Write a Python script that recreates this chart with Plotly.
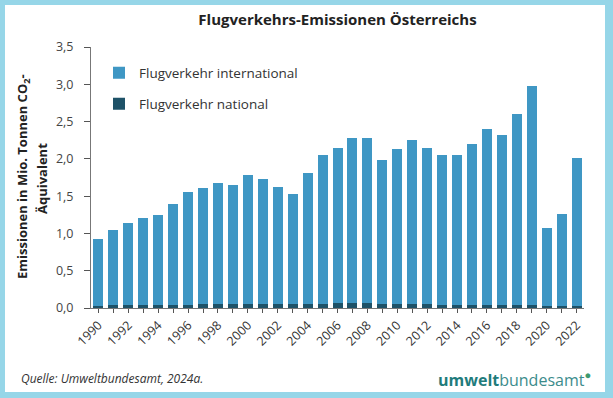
import plotly.graph_objects as go

years = list(range(1990, 2023))
label_years = list(range(1990, 2023, 2))

national = [0.03, 0.035, 0.035, 0.04, 0.04, 0.045, 0.045, 0.05, 0.055, 0.055,
            0.055, 0.05, 0.05, 0.055, 0.055, 0.055, 0.065, 0.07, 0.065, 0.055,
            0.055, 0.055, 0.05, 0.045, 0.045, 0.045, 0.04, 0.04, 0.04, 0.04,
            0.025, 0.025, 0.03]
international = [0.90, 1.01, 1.10, 1.165, 1.21, 1.355, 1.505, 1.56, 1.62, 1.59,
                 1.73, 1.68, 1.57, 1.475, 1.755, 2.00, 2.08, 2.205, 2.215, 1.93,
                 2.08, 2.20, 2.10, 2.01, 2.01, 2.155, 2.355, 2.275, 2.56, 2.935,
                 1.05, 1.235, 1.985]
y_ticks = [0, 0.5, 1.0, 1.5, 2.0, 2.5, 3.0, 3.5]

C_INT = "#3F97C4"
C_NAT = "#1E5268"
C_FRAME = "#96D6E8"
FONT = "Open Sans"

W, H = 613, 398
L, R, T, B = 91, 29, 47, 90
PW, PH = W - L - R, H - T - B


def px(x):
    return (x - L) / PW


def py(y):
    return (H - B - y) / PH


fig = go.Figure()
fig.add_trace(go.Bar(x=years, y=national, name="Flugverkehr national",
                     marker=dict(color=C_NAT, line=dict(width=0)),
                     legend="legend2", showlegend=True))
fig.add_trace(go.Bar(x=years, y=international, name="Flugverkehr international",
                     marker=dict(color=C_INT, line=dict(width=0)),
                     legend="legend", showlegend=True))

fig.update_layout(
    width=W, height=H,
    margin=dict(l=L, r=R, t=T, b=B, autoexpand=False),
    barmode="stack", bargap=0.33,
    showlegend=True,
    paper_bgcolor=C_FRAME, plot_bgcolor="white",
    separators=",.",
    font=dict(family=FONT, color="#444444", size=12),
    title=dict(text="<b>Flugverkehrs-Emissionen Österreichs</b>",
               x=0.5, xanchor="center", xref="paper", y=1 - 20 / H, yanchor="middle",
               yref="container", font=dict(size=15, color="#222222", family=FONT)),
    xaxis=dict(tickmode="array", tickvals=label_years,
               tickangle=-45, ticks="outside", ticklen=4, tickcolor="#555555",
               minor=dict(dtick=1, tick0=1990, ticks="outside", ticklen=4,
                          tickcolor="#555555", showgrid=False),
               showline=True, linecolor="#777777", linewidth=1, showgrid=False,
               zeroline=False, range=[1989.5, 2022.5],
               tickfont=dict(size=12.5, color="#333333")),
    yaxis=dict(range=[0, 3.5], tickvals=y_ticks, tickformat=".1f",
               ticks="outside", ticklen=6, tickcolor="#555555",
               showline=True, linecolor="#777777", linewidth=1, showgrid=False,
               zeroline=False, ticklabelstandoff=8,
               tickfont=dict(size=12.5, color="#444444")),
    legend=dict(x=px(99), y=py(73), xanchor="left", yanchor="middle", visible=True,
                bgcolor="rgba(0,0,0,0)", font=dict(size=13.5, color="#333333", family=FONT)),
    legend2=dict(x=px(99), y=py(104), xanchor="left", yanchor="middle", visible=True,
                 bgcolor="rgba(0,0,0,0)", font=dict(size=13.5, color="#333333", family=FONT)),
    shapes=[dict(type="rect", xref="paper", yref="paper",
                 x0=px(5), x1=px(605), y0=py(392), y1=py(5),
                 fillcolor="white", line=dict(width=0), layer="below")],
    annotations=[
        dict(text="<b>Emissionen in Mio. Tonnen CO<sub>2</sub>-</b>", textangle=-90,
             xref="paper", yref="paper", x=px(23), y=py(177), xanchor="center",
             yanchor="middle", showarrow=False,
             font=dict(size=13, color="#222222", family=FONT)),
        dict(text="<b>Äquivalent</b>", textangle=-90,
             xref="paper", yref="paper", x=px(42), y=py(179), xanchor="center",
             yanchor="middle", showarrow=False,
             font=dict(size=13, color="#222222", family=FONT)),
        dict(text="<i>Quelle: Umweltbundesamt, 2024a.</i>",
             xref="paper", yref="paper", x=px(19), y=py(378), xanchor="left",
             yanchor="middle", showarrow=False,
             font=dict(size=12, color="#333333", family=FONT)),
        dict(text="<b>umwelt</b><span style='color:#3C8C8C'>bundesamt</span>"
                  "<sup><span style='color:#3E9A6E'>●</span></sup>",
             xref="paper", yref="paper", x=px(593), y=py(379), xanchor="right",
             yanchor="middle", showarrow=False,
             font=dict(size=16, color="#1F7C7C", family=FONT)),
    ],
)

fig.write_html(
    "out.html",
    config={"displayModeBar": False},
    post_script="document.body.style.margin='0';document.body.style.overflow='hidden';"
                "document.body.style.background='" + C_FRAME + "';",
)
